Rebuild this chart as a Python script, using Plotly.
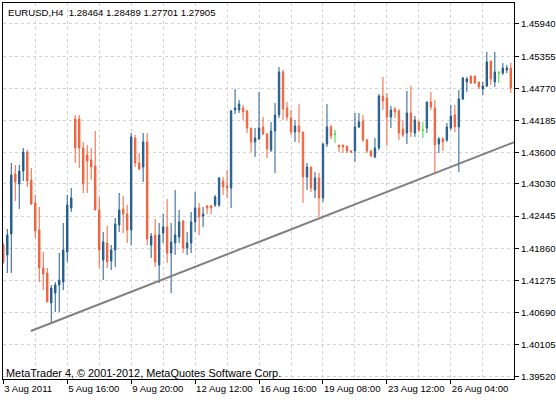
import plotly.graph_objects as go

# ---- data (EURUSD H4 bars) ----
opens = [1.41918,1.41736,1.42118,1.43210,1.43028,1.43265,1.43611,1.43101,1.42682,1.42191,
         1.41499,1.41408,1.40862,1.41044,1.41190,1.41245,1.41791,1.42591,1.44211,1.44211,
         1.43683,1.43556,1.43465,1.43356,1.42555,1.41645,1.41954,1.41627,1.41827,1.42282,
         1.42573,1.42482,1.42191,1.43865,1.43410,1.43338,1.43793,1.41918,1.42100,1.41554,
         1.42136,1.42246,1.41772,1.41954,1.42064,1.42355,1.41863,1.41954,1.42337,1.42591,
         1.42446,1.42628,1.42628,1.42646,1.42646,1.43083,1.42992,1.42955,1.44375,1.44375,
         1.44411,1.44357,1.44047,1.43793,1.43847,1.44066,1.43938,1.43647,1.43993,1.44284,
         1.45067,1.44411,1.44229,1.43975,1.44084,1.43975,1.43156,1.43338,1.42919,1.43137,
         1.42773,1.43756,1.44066,1.43938,1.43738,1.43738,1.43720,1.43629,1.43629,1.44066,
         1.44175,1.43829,1.43629,1.43520,1.43683,1.44630,1.44593,1.44248,1.44393,1.44357,
         1.44029,1.43956,1.44320,1.43956,1.44157,1.44011,1.44047,1.44521,1.44411,1.43756,
         1.43847,1.43829,1.44047,1.44284,1.44066,1.44575,1.44885,1.44994,1.44994,1.44885,
         1.44757,1.44812,1.45267,1.44885,1.45048,1.45048,1.45103,1.45139]
highs = [1.41954,1.42209,1.43410,1.43374,1.43374,1.43683,1.43647,1.43319,1.42828,1.42610,
         1.41791,1.41499,1.41190,1.41245,1.41772,1.42318,1.42828,1.42955,1.44284,1.44284,
         1.43793,1.43738,1.43683,1.43993,1.42792,1.42155,1.42264,1.41918,1.42409,1.42864,
         1.42810,1.42646,1.43956,1.43920,1.43592,1.43956,1.43956,1.42136,1.42391,1.42318,
         1.42482,1.42755,1.42318,1.42919,1.42555,1.42373,1.42155,1.42519,1.42883,1.42682,
         1.42610,1.42646,1.42646,1.42828,1.43156,1.43156,1.43283,1.44375,1.44757,1.44557,
         1.44466,1.44375,1.44047,1.44047,1.44703,1.44248,1.43956,1.44157,1.44502,1.45158,
         1.45103,1.44521,1.44375,1.44193,1.44484,1.43975,1.43410,1.43338,1.43247,1.43228,
         1.43774,1.44484,1.44102,1.44011,1.43738,1.43738,1.43720,1.43647,1.44320,1.44320,
         1.44284,1.43847,1.43647,1.43865,1.44666,1.44976,1.44684,1.44448,1.44430,1.44393,
         1.44193,1.44721,1.44812,1.44266,1.44175,1.44157,1.44521,1.44703,1.44557,1.43884,
         1.43884,1.44138,1.44466,1.44466,1.44739,1.44976,1.44976,1.44994,1.44994,1.44885,
         1.44885,1.45431,1.45267,1.45431,1.45085,1.45230,1.45194,1.45230]
lows = [1.41572,1.41408,1.41408,1.42719,1.42573,1.43083,1.42974,1.42646,1.42045,1.41245,
        1.41099,1.40881,1.40517,1.40699,1.40699,1.41099,1.41609,1.42519,1.43410,1.43319,
        1.42864,1.42864,1.43101,1.42646,1.41499,1.41281,1.41499,1.41463,1.41518,1.42155,
        1.42136,1.41954,1.41918,1.43338,1.43283,1.43065,1.41918,1.41681,1.41518,1.41226,
        1.41954,1.41590,1.41044,1.41736,1.41954,1.41772,1.41736,1.41772,1.42155,1.42100,
        1.42246,1.42482,1.42482,1.42610,1.42610,1.42828,1.42773,1.42591,1.44302,1.44320,
        1.44193,1.43956,1.43611,1.43520,1.43829,1.43920,1.43501,1.43611,1.43228,1.44229,
        1.44193,1.44193,1.43920,1.43793,1.43774,1.42682,1.42919,1.42883,1.42773,1.42428,
        1.42701,1.43702,1.43847,1.43774,1.43611,1.43592,1.43592,1.43592,1.43429,1.44047,
        1.43793,1.43592,1.43520,1.43501,1.43647,1.44375,1.43720,1.44047,1.44229,1.43829,
        1.43884,1.43756,1.43884,1.43884,1.43975,1.43865,1.43956,1.44375,1.43247,1.43592,
        1.43629,1.43793,1.44011,1.43975,1.43247,1.44557,1.44703,1.44848,1.44848,1.44757,
        1.44648,1.44794,1.44830,1.44794,1.44866,1.45012,1.45048,1.44684]
closes = [1.41609,1.42100,1.43192,1.43065,1.43265,1.43611,1.43083,1.42664,1.42173,1.41499,
          1.41390,1.40881,1.41135,1.41190,1.41281,1.41827,1.42646,1.42773,1.43683,1.43683,
          1.43028,1.43447,1.43338,1.42555,1.41827,1.41973,1.41609,1.41827,1.42300,1.42555,
          1.42482,1.42191,1.43884,1.43410,1.43301,1.43793,1.42027,1.42082,1.41609,1.42100,
          1.42246,1.41772,1.41973,1.42100,1.42337,1.41863,1.41954,1.42337,1.42591,1.42428,
          1.42482,1.42591,1.42591,1.42792,1.43137,1.42974,1.42955,1.44357,1.44411,1.44484,
          1.44339,1.44047,1.43793,1.43865,1.44047,1.43938,1.43665,1.43993,1.44284,1.45067,
          1.44393,1.44248,1.43975,1.44084,1.43975,1.43156,1.43338,1.42955,1.43137,1.42773,
          1.43756,1.44066,1.43902,1.43938,1.43702,1.43702,1.43629,1.43611,1.44066,1.44157,
          1.43829,1.43629,1.43538,1.43683,1.44630,1.44539,1.44248,1.44375,1.44339,1.43956,
          1.43920,1.44320,1.43975,1.44193,1.44011,1.44011,1.44521,1.44430,1.43738,1.43847,
          1.43793,1.44066,1.44266,1.44066,1.44575,1.44957,1.44939,1.44866,1.44866,1.44794,
          1.44812,1.45249,1.44939,1.45067,1.45048,1.45139,1.45139,1.44775]

tick_bars = [0, 16, 32, 48, 64, 80, 96, 112]
tick_labels = ["3 Aug 2011", "5 Aug 16:00", "9 Aug 20:00", "12 Aug 12:00",
               "16 Aug 16:00", "19 Aug 08:00", "23 Aug 12:00", "26 Aug 04:00"]
price_ticks = [1.39520, 1.40105, 1.40690, 1.41275, 1.41860, 1.42445,
               1.43030, 1.43600, 1.44185, 1.44770, 1.45355, 1.45940]
price_labels = ["1.39520", "1.40105", "1.40690", "1.41275", "1.41860", "1.42445",
                "1.43030", "1.43600", "1.44185", "1.44770", "1.45355", "1.45940"]

trend_x = [6.9, 128.5]
trend_y = [1.40353, 1.43808]

header_text = "EURUSD,H4\u00a0\u00a01.28464 1.28489 1.27701 1.27905"
footer_text = "MetaTrader 4, \u00a9 2001-2012, MetaQuotes Software Corp."

# ---- styling ----
BULL = "#235D8D"
BEAR = "#F0643C"
DOJI = "#3CD23C"
FONT = "Liberation Sans"
FS = 9.6

bars = list(range(len(opens)))

def subset(cond):
    idx = [i for i in bars if cond(opens[i], closes[i])]
    return (idx, [opens[i] for i in idx], [highs[i] for i in idx],
            [lows[i] for i in idx], [closes[i] for i in idx])

fig = go.Figure()
for cond, col in [(lambda o, c: c > o, BULL), (lambda o, c: c < o, BEAR),
                  (lambda o, c: c == o, DOJI)]:
    x, o, h, l, c = subset(cond)
    fig.add_trace(go.Candlestick(
        x=x, open=o, high=h, low=l, close=c,
        increasing=dict(line=dict(color=col, width=1), fillcolor=col),
        decreasing=dict(line=dict(color=col, width=1), fillcolor=col),
        whiskerwidth=0, showlegend=False, hoverinfo="skip"))

fig.add_trace(go.Scatter(x=trend_x, y=trend_y, mode="lines",
                         line=dict(color="#808080", width=2),
                         showlegend=False, hoverinfo="skip"))

grid = "#D3D3D3"
fig.update_layout(
    width=556, height=400,
    margin=dict(l=3, r=42, t=3, b=21, autoexpand=False),
    paper_bgcolor="white", plot_bgcolor="white",
    boxgap=0.5,
    font=dict(family=FONT, size=FS, color="black"),
    xaxis=dict(
        range=[-0.075, 127.8], rangeslider=dict(visible=False),
        tickmode="array", tickvals=tick_bars, ticktext=tick_labels,
        ticklabelposition="outside right", tickangle=0, automargin=False,
        ticks="outside", ticklen=4, tickcolor="black",
        showgrid=True, gridcolor=grid, griddash="3px,3px", gridwidth=1,
        minor=dict(tick0=0, dtick=8, showgrid=True, gridcolor=grid,
                   griddash="3px,3px", ticks=""),
        showline=True, linecolor="black", linewidth=1, mirror=True,
        zeroline=False, tickfont=dict(family=FONT, size=FS, color="black"),
    ),
    yaxis=dict(
        range=[1.39479, 1.46322], side="right", automargin=False,
        tickmode="array", tickvals=price_ticks, ticktext=price_labels,
        ticks="outside", ticklen=4, tickcolor="black",
        showgrid=True, gridcolor=grid, griddash="3px,3px", gridwidth=1,
        showline=True, linecolor="black", linewidth=1, mirror=True,
        zeroline=False, tickfont=dict(family=FONT, size=FS, color="black"),
    ),
    annotations=[
        dict(text=header_text, xref="paper", yref="paper", x=0, y=1,
             xanchor="left", yanchor="top", xshift=3, yshift=-2,
             showarrow=False, font=dict(family=FONT, size=FS, color="black")),
        dict(text=footer_text, xref="paper", yref="paper", x=0, y=0,
             xanchor="left", yanchor="bottom", xshift=1, yshift=-2,
             showarrow=False, font=dict(family=FONT, size=10.9, color="black")),
    ],
)

fig.write_html("out.html", config={"displayModeBar": False},
               post_script="document.body.style.margin='0';document.body.style.padding='0';")
